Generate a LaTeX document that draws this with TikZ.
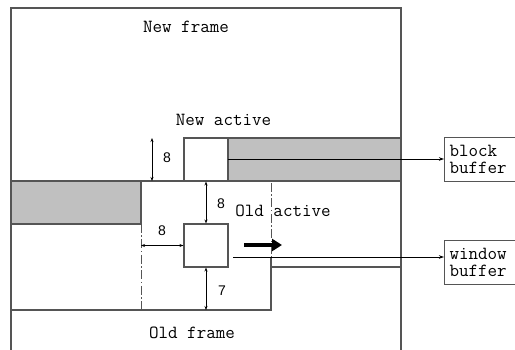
\documentclass[tikz,border=0pt]{standalone}
\usepackage{fontspec}
\newfontfamily\digitfont{Liberation Sans}
\usetikzlibrary{arrows.meta}
\definecolor{band}{HTML}{C0C0C0}
\definecolor{edge}{HTML}{555555}
\tikzset{
  frame/.style={draw=edge, line width=1.3pt},
  chain/.style={draw=edge, line width=1pt, dash pattern=on 9pt off 2.5pt on 1.5pt off 2.5pt},
  sq/.style={draw=edge, line width=1.1pt, fill=white, minimum width=44pt, minimum height=43pt, inner sep=0pt},
  dim/.style={draw=black, line width=0.8pt, {Stealth[length=4pt,width=3pt]}-{Stealth[length=4pt,width=3pt]}},
  link/.style={draw=black, line width=0.9pt, -{Stealth[length=5pt,width=3.5pt]}},
  move/.style={draw=black, line width=4pt, -{Triangle[length=10pt,width=12pt]}},
  buf/.style={draw=edge, line width=1pt, anchor=north west, align=left, minimum height=44pt,
    text width=90pt, inner xsep=5pt, inner ysep=3pt, font=\fontsize{18.5}{17}\selectfont\ttfamily},
  lab/.style={font=\fontsize{18.5}{18}\selectfont\ttfamily},
  dimlab/.style={font=\fontsize{14}{16}\selectfont\digitfont}
}
\begin{document}
\begin{tikzpicture}[x=1pt, y=-1pt, line join=miter]
  \useasboundingbox (0,0) rectangle (515,350);
  \clip (0,0) rectangle (515,350);
  % shaded bands
  \fill[band] (228,138) rectangle (401,181);
  \fill[band] (11,181) rectangle (141,224);
  % new frame
  \draw[frame] (11,350) -- (11,8) -- (401,8) -- (401,350);
  \draw[frame] (11,181) -- (401,181);
  \draw[frame] (228,138) -- (401,138);
  \draw[frame] (11,224) -- (141,224) -- (141,181);
  \node[sq] (blk) at (206,159.5) {};
  % old active
  \draw[chain] (141,224) -- (141,310);
  \draw[chain] (271,183) -- (271,257);
  \draw[frame] (271,257) -- (271,310) -- (11,310);
  \draw[frame] (271,267) -- (401,267);
  \node[sq] (win) at (206,245.5) {};
  % buffers
  \node[buf] (blockbuf) at (444,137) {block\\buffer};
  \node[buf] (winbuf) at (444,240) {window\\buffer};
  \coordinate (blkout) at (228,159);
  \coordinate (winout) at (233,257);
  \draw[link] (blkout) -- (blkout -| blockbuf.west);
  \draw[link] (winout) -- (winout -| winbuf.west);
  % margins
  \draw[dim] (152,138) -- (152,181);
  \draw[dim] (blk.south) -- (win.north);
  \draw[dim] (141,245.5) -- (win.west);
  \draw[dim] (win.south) -- (win.south |- 0,310);
  \draw[move] (244,245) -- (282,245);
  \node[dimlab] (top) at (167,158) {8};
  \node[dimlab] (mid) at (221,204) {8};
  \node[dimlab] (side) at (162,231) {8};
  \node[dimlab] (low) at (222,291) {7};
  % texts
  \node[lab] (newframe) at (186,27) {New frame};
  \node[lab] (newactive) at (223.5,120) {New active};
  \node[lab] (oldactive) at (283,211) {Old active};
  \node[lab] (oldframe) at (192,333) {Old frame};
\end{tikzpicture}
\end{document}
